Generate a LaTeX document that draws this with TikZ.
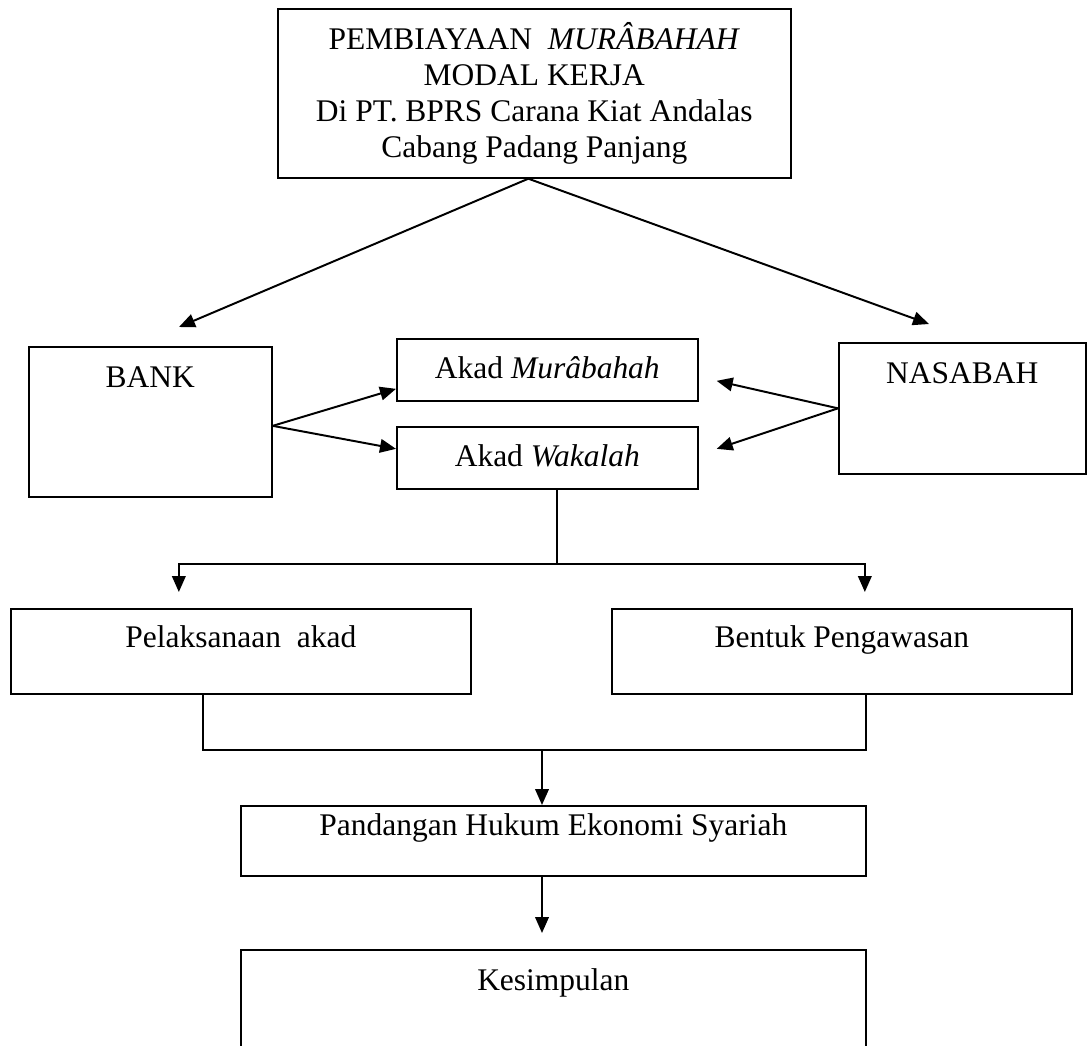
\documentclass[tikz,border=0pt]{standalone}
\usepackage{fontspec}
\setmainfont{Liberation Serif}
\usetikzlibrary{arrows.meta, calc}

\begin{document}
\begin{tikzpicture}[
        font=\fontsize{22.4}{25.8}\selectfont,
        kotak/.style={draw, line width=1.2pt, inner sep=0pt, anchor=north west},
        panah/.style={-{Triangle[length=0.4cm, width=0.34cm]}, line width=1.4pt}
    ]
        \useasboundingbox (0,0) rectangle (27.275,-26.15);
        \clip (0,0) rectangle (27.275,-26.15);

        \node[kotak, align=center, minimum width=12.825cm, minimum height=4.225cm] at (6.925,-0.2) (judul) {PEMBIAYAAN\ \ \textit{MURÂBAHAH}\\ MODAL KERJA\\ Di PT. BPRS Carana Kiat Andalas\\ Cabang Padang Panjang};

        \node[kotak, minimum width=6.075cm, text height=1.025cm, text depth=2.725cm] at (0.7,-8.65)    (bank)     {BANK};
        \node[kotak, minimum width=7.525cm, text height=1cm, text depth=0.55cm]     at (9.9,-8.45)    (mur)      {Akad \textit{Murâbahah}};
        \node[kotak, minimum width=7.525cm, text height=1cm, text depth=0.55cm]     at (9.9,-10.65)   (wakalah)  {Akad \textit{Wakalah}};
        \node[kotak, minimum width=6.175cm, text height=1.025cm, text depth=2.25cm] at (20.95,-8.55)  (nasabah)  {NASABAH};
        \node[kotak, minimum width=11.5cm, text height=0.975cm, text depth=1.15cm]  at (0.25,-15.2)   (pel)      {Pelaksanaan\ \ akad};
        \node[kotak, minimum width=11.5cm, text height=0.975cm, text depth=1.15cm]  at (15.275,-15.2) (bentuk)   {Bentuk Pengawasan};
        \node[kotak, minimum width=15.625cm, text height=0.75cm, text depth=1cm]    at (6,-20.125)    (pandangan) {Pandangan Hukum Ekonomi Syariah};
        \node[kotak, minimum width=15.625cm, text height=1.025cm, text depth=2.25cm] at (6,-23.725)   (simpul)   {Kesimpulan};

        \coordinate (ujungkiri)  at (4.475,-8.175);
        \coordinate (ujungkanan) at (23.225,-8.1);
        \coordinate (cabang)     at (13.925,-14.1);
        \coordinate (gabung)     at (13.55,-18.75);

        \draw [panah] ([xshift=-0.15cm]judul.south) -- (ujungkiri);
        \draw [panah] ([xshift=-0.15cm]judul.south) -- (ujungkanan);

        \draw [panah] ([yshift=-0.1cm]bank.east) -- ([yshift=-0.475cm]mur.west);
        \draw [panah] ([yshift=-0.1cm]bank.east) -- ([yshift=0.225cm]wakalah.west);
        \draw [panah] (nasabah.west) -- ([xshift=0.45cm, yshift=-0.275cm]mur.east);
        \draw [panah] (nasabah.west) -- ([xshift=0.45cm, yshift=0.225cm]wakalah.east);

        \draw [line width=1.4pt] (wakalah.south -| cabang) -- (cabang);
        \draw [panah] (cabang) -| ([xshift=-1.55cm, yshift=0.4cm]pel.north);
        \draw [panah] (cabang) -| ([xshift=0.575cm, yshift=0.4cm]bentuk.north);

        \draw [line width=1.4pt] ([xshift=-0.95cm]pel.south) |- (gabung) -| ([xshift=0.6cm]bentuk.south);
        \draw [panah] (gabung) -- (gabung |- pandangan.north);
        \draw [panah] (gabung |- pandangan.south) -- ($(gabung |- simpul.north)+(0,0.4)$);
    \end{tikzpicture}
\end{document}
